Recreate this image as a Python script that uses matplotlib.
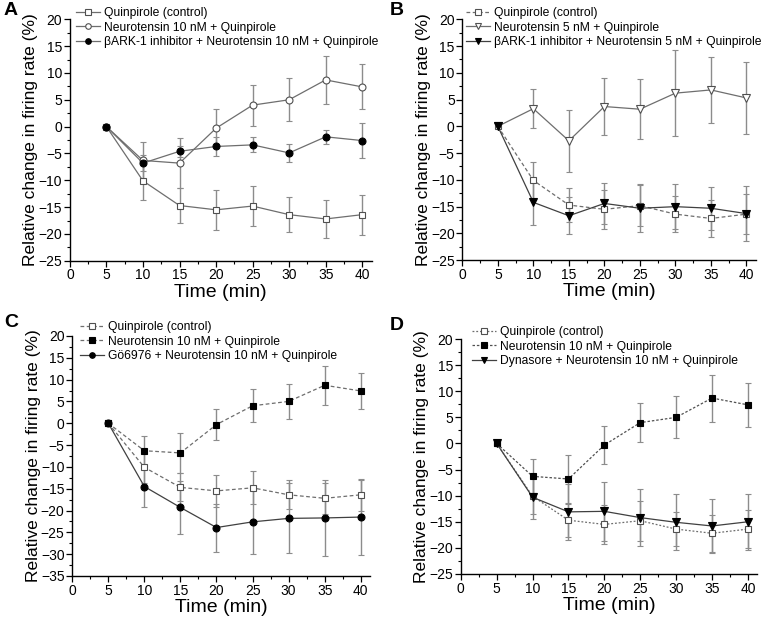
import matplotlib
matplotlib.use("Agg")
import matplotlib.pyplot as plt
from matplotlib.ticker import MultipleLocator

plt.rcParams['font.family'] = ['Liberation Sans', 'DejaVu Sans']

time = [5, 10, 15, 20, 25, 30, 35, 40]

quin = [0, -10.1, -14.7, -15.5, -14.8, -16.4, -17.2, -16.4]
quin_err = [0, 3.5, 3.2, 3.7, 3.8, 3.3, 3.5, 3.7]

nt10 = [0, -6.3, -6.8, -0.3, 4.0, 5.0, 8.7, 7.4]
nt10_err = [0, 3.4, 4.6, 3.6, 3.8, 4.0, 4.5, 4.2]

bark_nt10 = [0, -6.8, -4.6, -3.7, -3.4, -4.9, -1.9, -2.6]
bark_nt10_err = [0, 1.5, 1.0, 1.8, 1.4, 1.6, 1.3, 3.2]

nt5 = [0, 3.3, -2.7, 3.7, 3.2, 6.2, 6.8, 5.3]
nt5_err = [0, 3.7, 5.8, 5.3, 5.6, 8.0, 6.1, 6.7]

bark_nt5 = [0, -14.2, -16.7, -14.4, -15.3, -15.0, -15.3, -16.3]
bark_nt5_err = [0, 4.2, 3.5, 3.8, 4.5, 4.2, 4.0, 5.2]

go_nt10 = [0, -14.5, -19.3, -23.9, -22.6, -21.8, -21.7, -21.5]
go_nt10_err = [0, 4.8, 6.0, 5.5, 7.3, 8.0, 8.7, 8.6]

dyn_nt10 = [0, -10.3, -13.1, -13.0, -14.2, -15.1, -15.8, -15.0]
dyn_nt10_err = [0, 4.2, 5.4, 5.7, 5.4, 5.4, 5.2, 5.4]

lab_quin = "Quinpirole (control)"
lab_nt10 = "Neurotensin 10 nM + Quinpirole"
lab_nt5 = "Neurotensin 5 nM + Quinpirole"
lab_bark10 = "\u03b2ARK-1 inhibitor + Neurotensin 10 nM + Quinpirole"
lab_bark5 = "\u03b2ARK-1 inhibitor + Neurotensin 5 nM + Quinpirole"
lab_go = "G\u00f66976 + Neurotensin 10 nM + Quinpirole"
lab_dyn = "Dynasore + Neurotensin 10 nM + Quinpirole"

fig = plt.figure(figsize=(7.68, 6.21), dpi=100)

LINE = '#6e6e6e'
ERR = '#8c8c8c'
EDGE = '#505050'


def series(ax, y, e, label, marker, filled, ls, lc=LINE, ms=5):
    c = ax.errorbar(time, y, yerr=e, color=lc, ls=ls, lw=0.9,
                    marker=marker, ms=ms,
                    mfc='black' if filled else 'white',
                    mec='black' if filled else EDGE, mew=0.8,
                    ecolor=ERR, elinewidth=1.0, capsize=2.5, capthick=0.8,
                    label=label, zorder=3)
    return c.lines[0], label


def style(ax, ylo, yhi):
    ax.set_xlim(0, 41.3)
    ax.set_ylim(ylo, yhi)
    for s in ['top', 'right']:
        ax.spines[s].set_visible(False)
    for s in ['left', 'bottom']:
        ax.spines[s].set_linewidth(1.0)
    ax.xaxis.set_major_locator(MultipleLocator(5))
    ax.xaxis.set_minor_locator(MultipleLocator(2.5))
    ax.yaxis.set_major_locator(MultipleLocator(5))
    ax.yaxis.set_minor_locator(MultipleLocator(2.5))
    ax.tick_params(which='major', direction='out', length=4, width=0.9, labelsize=10, pad=1.5)
    ax.tick_params(which='minor', direction='out', length=2.2, width=0.8)
    ax.set_xlabel("Time (min)", fontsize=14, labelpad=1)
    ax.set_ylabel("Relative change in firing rate (%)", fontsize=12.5, labelpad=0)


def legend(ax, items, x_px, y_px):
    handles = [it[0] for it in items]
    labels = [it[1] for it in items]
    ax.legend(handles, labels, loc='upper left',
              bbox_to_anchor=(x_px / 768, 1 - y_px / 621),
              bbox_transform=fig.transFigure, frameon=False, fontsize=8.7,
              borderpad=0, borderaxespad=0, handlelength=2.0, handletextpad=0.3,
              labelspacing=0.22, markerscale=0.8)


# Panel A
axA = fig.add_axes([0.091, 0.580, 0.393, 0.389])
h = [series(axA, quin, quin_err, lab_quin, 's', False, '-'),
     series(axA, nt10, nt10_err, lab_nt10, 'o', False, '-'),
     series(axA, bark_nt10, bark_nt10_err, lab_bark10, 'o', True, '-')]
style(axA, -25, 20)
legend(axA, h, 76, 7)

# Panel B
axB = fig.add_axes([0.602, 0.581, 0.382, 0.388])
h = [series(axB, quin, quin_err, lab_quin, 's', False, (0, (3, 2))),
     series(axB, nt5, nt5_err, lab_nt5, 'v', False, '-', ms=6),
     series(axB, bark_nt5, bark_nt5_err, lab_bark5, 'v', True, '-', lc='#404040', ms=6)]
style(axB, -25, 20)
legend(axB, h, 466, 7)

# Panel C
axC = fig.add_axes([0.094, 0.0725, 0.388, 0.3865])
h = [series(axC, quin, quin_err, lab_quin, 's', False, (0, (3, 2))),
     series(axC, nt10, nt10_err, lab_nt10, 's', True, (0, (3, 2))),
     series(axC, go_nt10, go_nt10_err, lab_go, 'o', True, '-', lc='#404040')]
style(axC, -35, 20)
legend(axC, h, 80, 321)

# Panel D
axD = fig.add_axes([0.600, 0.0757, 0.386, 0.3783])
h = [series(axD, quin, quin_err, lab_quin, 's', False, (0, (1.5, 1.5))),
     series(axD, nt10, nt10_err, lab_nt10, 's', True, (0, (2, 1.5)), lc='#505050'),
     series(axD, dyn_nt10, dyn_nt10_err, lab_dyn, 'v', True, '-', lc='#404040', ms=6)]
style(axD, -25, 20)
legend(axD, h, 472, 326)

for lab, x, y in [("A", 4, 2), ("B", 390, 2), ("C", 4, 314), ("D", 390, 317)]:
    fig.text(x / 768, 1 - y / 621, lab, fontsize=14, fontweight='bold',
             ha='left', va='top')

fig.savefig("out.png", dpi=100)
